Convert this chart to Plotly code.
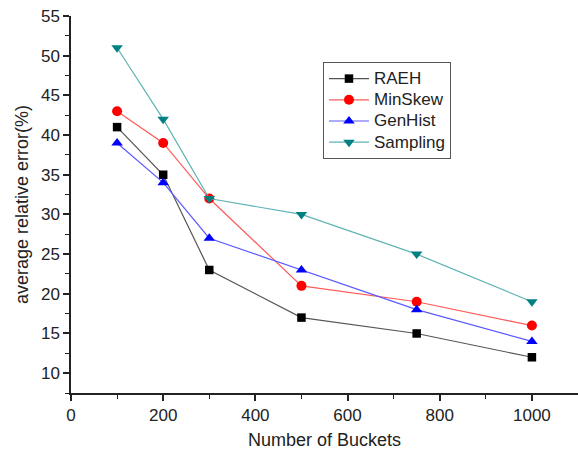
import plotly.graph_objects as go

buckets = [100, 200, 300, 500, 750, 1000]
raeh = [41, 35, 23, 17, 15, 12]
minskew = [43, 39, 32, 21, 19, 16]
genhist = [39, 34, 27, 23, 18, 14]
sampling = [51, 42, 32, 30, 25, 19]

series = [
    ("RAEH", raeh, "#000000", "#555555", "square", 8.5),
    ("MinSkew", minskew, "#ff0000", "#ff5a5a", "circle", 10),
    ("GenHist", genhist, "#0000ff", "#5a5aff", "triangle-up", 10),
    ("Sampling", sampling, "#008080", "#5fb3b3", "triangle-down", 10),
]

fig = go.Figure()
for name, vals, mc, lc, sym, sz in series:
    fig.add_trace(go.Scatter(
        x=buckets, y=vals, name="<span style='font-size:17px'>" + name + "</span>",
        mode="lines+markers",
        line=dict(color=lc, width=1.2),
        marker=dict(color=mc, symbol=sym, size=sz, line=dict(width=0)),
    ))

font = "Liberation Sans, Arial, sans-serif"
fig.update_layout(
    width=578, height=456,
    margin=dict(l=71, r=0, t=16, b=63),
    plot_bgcolor="white", paper_bgcolor="white",
    font=dict(family=font, size=17, color="#222222"),
    showlegend=True,
    legend=dict(x=0.497, y=0.878, xanchor="left", yanchor="top",
                bordercolor="#555555", borderwidth=1, bgcolor="white",
                font=dict(size=14), tracegroupgap=0, itemwidth=40),
    xaxis=dict(range=[0, 1100], tickvals=[0, 200, 400, 600, 800, 1000], automargin=False,
               showgrid=False, zeroline=False, showline=True, linecolor="#222222", linewidth=1.5,
               ticks="outside", ticklen=6, tickwidth=1.5, tickcolor="#222222",
               tickfont=dict(size=17),
               minor=dict(tickvals=[100, 300, 500, 700, 900, 1100], ticks="outside", ticklen=4, tickcolor="#222222", tickwidth=1.2),
               title=dict(text="Number of Buckets", font=dict(size=18), standoff=9)),
    yaxis=dict(range=[7.5, 55], tickvals=[10, 15, 20, 25, 30, 35, 40, 45, 50, 55], automargin=False,
               showgrid=False, zeroline=False, showline=True, linecolor="#222222", linewidth=1.5,
               ticks="outside", ticklen=6, tickwidth=1.5, tickcolor="#222222",
               tickfont=dict(size=17),
               minor=dict(tickvals=[7.5, 12.5, 17.5, 22.5, 27.5, 32.5, 37.5, 42.5, 47.5, 52.5], ticks="outside", ticklen=4, tickcolor="#222222", tickwidth=1.2),
               title=dict(text="average relative error(%)", font=dict(size=18), standoff=8)),
)
fig.write_html("out.html", config={"displayModeBar": False},
               post_script="document.body.style.margin='0px';")
